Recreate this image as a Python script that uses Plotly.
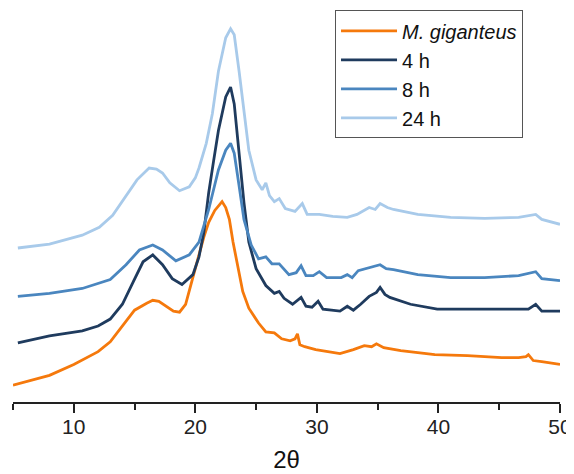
import plotly.graph_objects as go

# 2-theta positions and intensities (arbitrary units, offset stacked)
theta_mg = [5.0, 6.5, 8, 10, 12, 13, 14, 15, 16, 16.5, 17, 17.5, 18.2, 18.7, 19.2, 19.6, 20, 20.3, 20.7, 21.1,
            21.6, 22.2, 22.5, 22.8, 23.1, 23.4, 23.9, 24.4, 25.2, 25.8, 26.5, 27.1, 27.8, 28.2, 28.4, 28.6,
            29.0, 29.9, 31.0, 31.9, 33.0, 33.9, 34.5, 34.9, 35.5, 36.9, 38.3, 39.7, 42.4, 45.2, 46.6, 47.2,
            47.4, 47.8, 48.5, 50]
int_mg = [20, 25, 30, 41, 54, 64, 80, 96, 103, 106, 105, 101, 95, 94, 102, 120, 137, 152, 170, 185,
          197, 206, 200, 188, 165, 145, 115, 98, 83, 74, 73, 67, 65, 67, 72, 61,
          59, 56, 54, 52, 56, 60, 59, 62, 58, 55, 53, 51, 50, 48, 48, 49,
          51, 45, 44, 41]

theta_4h = [5.4, 6.5, 8, 10.7, 12, 13, 14, 14.9, 15.7, 16.5, 17.3, 18.1, 18.9, 19.8, 20.3, 20.7, 21.1, 21.5,
            21.9, 22.5, 22.9, 23.2, 23.6, 24.0, 24.4, 25.0, 25.8, 26.5, 26.9, 27.3, 28.0, 28.7, 29.1, 29.6,
            30.1, 30.5, 31.2, 31.9, 32.5, 33.0, 33.6, 34.3, 34.9, 35.2, 35.6, 36.0, 37.7, 39.9, 42.4, 45.2,
            47.4, 48.0, 48.5, 50]
int_4h = [63, 66, 70, 75, 80, 87, 102, 125, 145, 152, 142, 128, 122, 132, 150, 175, 215, 247,
          278, 312, 322, 305, 255, 205, 165, 138, 121, 113, 115, 108, 102, 109, 100, 99,
          105, 97, 96, 95, 100, 96, 102, 110, 114, 119, 112, 109, 102, 97, 97, 97,
          97, 102, 95, 95]

theta_8h = [5.4, 8, 10.7, 13, 14.3, 15.4, 16.5, 17.3, 18.4, 19.5, 20.3, 21.1, 21.9, 22.5, 22.9, 23.2, 23.6,
            24.0, 24.6, 25.2, 25.8, 26.3, 26.9, 27.7, 28.3, 28.7, 29.1, 29.7, 30.2, 30.8, 31.3, 32.0, 32.5,
            32.9, 33.4, 34.3, 35.2, 35.7, 36.3, 38.3, 41.0, 43.8, 46.6, 48.0, 48.5, 50]
int_8h = [110, 113, 118, 127, 142, 157, 162, 157, 146, 152, 165, 198, 238, 258, 265, 255, 222,
          188, 162, 148, 150, 143, 143, 132, 134, 141, 131, 131, 135, 129, 129, 129, 132,
          129, 136, 139, 142, 138, 137, 132, 129, 129, 131, 135, 128, 126]

theta_24h = [5.4, 8, 10.7, 12.1, 13.2, 14.3, 15.2, 16.2, 16.8, 17.3, 17.9, 18.7, 19.5, 20.0, 20.3, 20.9, 21.4,
             21.9, 22.5, 22.9, 23.2, 23.6, 24.0, 24.4, 25.0, 25.5, 25.8, 26.1, 26.5, 26.9, 27.4, 28.2, 28.8,
             29.2, 30.2, 31.3, 32.5, 33.3, 34.3, 34.8, 35.2, 35.8, 36.3, 38.3, 41.0, 43.8, 46.6, 48.0, 48.5, 50]
int_24h = [159, 163, 172, 180, 192, 212, 228, 240, 239, 235, 225, 217, 221, 230, 240, 265, 295,
           338, 372, 381, 375, 338, 295, 258, 228, 218, 225, 212, 206, 209, 199, 196, 204,
           193, 193, 191, 190, 193, 200, 198, 204, 200, 198, 193, 190, 189, 190, 193, 188, 183]

series_names = ["<i>M. giganteus</i>", "4 h", "8 h", "24 h"]
colors = ["#F5790C", "#1F3B5E", "#4A86BF", "#A8CAEA"]

fig = go.Figure()
for name, xs, ys, c in zip(series_names,
                           [theta_mg, theta_4h, theta_8h, theta_24h],
                           [int_mg, int_4h, int_8h, int_24h], colors):
    fig.add_trace(go.Scatter(x=xs, y=ys, mode="lines", name=name,
                             line=dict(color=c, width=2.8)))

# the page body adds an 8px margin, so the figure is 8px smaller on each axis
fig.update_layout(
    width=566, height=466,
    margin=dict(l=5, r=14, t=2, b=72),
    paper_bgcolor="white", plot_bgcolor="white",
    font=dict(family="Liberation Sans, Arial, sans-serif", color="#111"),
    showlegend=True,
    legend=dict(x=0.5887, y=1.012, xanchor="left", yanchor="top",
                bordercolor="#555", borderwidth=1, bgcolor="white",
                font=dict(size=20, color="#111"), itemwidth=56,
                traceorder="normal"),
    xaxis=dict(range=[5, 50], tickvals=[10, 20, 30, 40, 50], showgrid=False, zeroline=False,
               automargin=False,
               showline=True, linecolor="#222", linewidth=1.5,
               ticks="outside", ticklen=9, tickwidth=1.5, tickcolor="#222",
               tickfont=dict(size=21, color="#222"), ticklabelstandoff=-4,
               minor=dict(tickvals=[5, 15, 25, 35, 45], ticks="outside", ticklen=6,
                          tickwidth=1.5, tickcolor="#222"),
               title=dict(text="2θ", font=dict(size=24, color="#111"), standoff=14)),
    yaxis=dict(range=[3, 395], visible=False, showgrid=False, zeroline=False),
)

fig.write_html("out.html")
